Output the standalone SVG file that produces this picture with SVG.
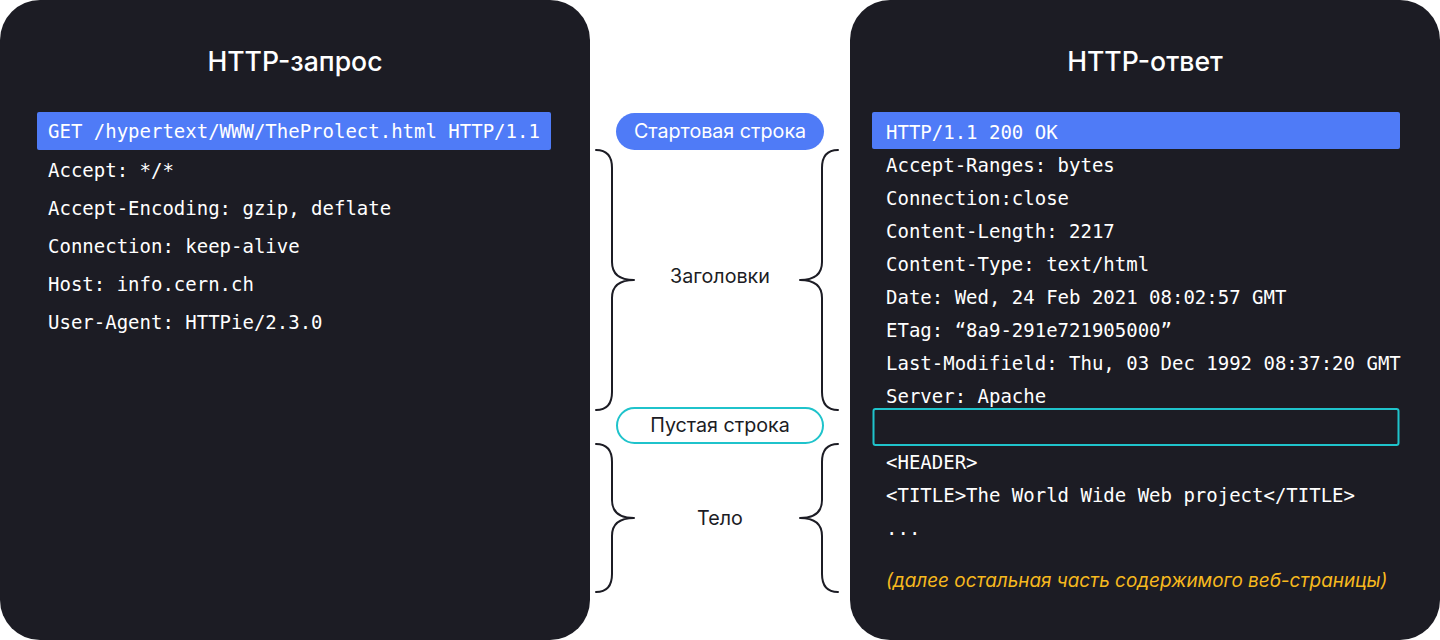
<svg xmlns="http://www.w3.org/2000/svg" width="1440" height="640" viewBox="0 0 1440 640">
<style>
.panel{fill:#1c1c24}
.title{font-family:Inter,"Noto Sans",sans-serif;font-size:26.6px;fill:#ffffff;text-anchor:middle;font-weight:500}
.mono{font-family:"DejaVu Sans Mono","Liberation Mono",monospace;font-size:19px;fill:#ffffff}
.lbl{font-family:Inter,"Noto Sans",sans-serif;font-size:19.7px;text-anchor:middle}
.brace{fill:none;stroke:#1c1c24;stroke-width:2;stroke-linecap:round;stroke-linejoin:round}
.note{font-family:Inter,"Noto Sans",sans-serif;font-size:18.9px;font-style:italic;fill:#f7b91e}
</style>
<rect width="1440" height="640" fill="#ffffff"/>
<g id="request">
<rect class="panel" x="0" y="0" width="590" height="640" rx="40"/>
<text class="title" x="295" y="71">HTTP-запрос</text>
<rect x="37" y="112" width="514" height="38" rx="2" fill="#4f7bf7"/>
<text class="mono" x="48" y="138">GET /hypertext/WWW/TheProlect.html HTTP/1.1</text>
<text class="mono" x="48" y="177">Accept: */*</text>
<text class="mono" x="48" y="215">Accept-Encoding: gzip, deflate</text>
<text class="mono" x="48" y="253">Connection: keep-alive</text>
<text class="mono" x="48" y="291">Host: info.cern.ch</text>
<text class="mono" x="48" y="329">User-Agent: HTTPie/2.3.0</text>
</g>
<g id="response">
<rect class="panel" x="850" y="0" width="590" height="640" rx="40"/>
<text class="title" x="1145" y="71">HTTP-ответ</text>
<rect x="872" y="112" width="528" height="37" rx="2" fill="#4f7bf7"/>
<text class="mono" x="886" y="139">HTTP/1.1 200 OK</text>
<text class="mono" x="886" y="172">Accept-Ranges: bytes</text>
<text class="mono" x="886" y="205">Connection:close</text>
<text class="mono" x="886" y="238">Content-Length: 2217</text>
<text class="mono" x="886" y="271">Content-Type: text/html</text>
<text class="mono" x="886" y="304">Date: Wed, 24 Feb 2021 08:02:57 GMT</text>
<text class="mono" x="886" y="337">ETag: “8a9-291e721905000”</text>
<text class="mono" x="886" y="370">Last-Modifield: Thu, 03 Dec 1992 08:37:20 GMT</text>
<text class="mono" x="886" y="403">Server: Apache</text>
<rect x="873.5" y="409" width="525" height="36" rx="2" fill="none" stroke="#1fc3cb" stroke-width="2"/>
<text class="mono" x="886" y="469">&lt;HEADER&gt;</text>
<text class="mono" x="886" y="502">&lt;TITLE&gt;The World Wide Web project&lt;/TITLE&gt;</text>
<text class="mono" x="886" y="535">...</text>
<text class="note" x="886" y="587">(далее остальная часть содержимого веб-страницы)</text>
</g>
<g id="start-line">
<rect x="616" y="113" width="208" height="37" rx="18.5" fill="#4f7bf7"/>
<text class="lbl" x="720" y="138" fill="#ffffff">Стартовая строка</text>
</g>
<g id="empty-line">
<rect x="617" y="408" width="206" height="35" rx="17.5" fill="#ffffff" stroke="#1fc3cb" stroke-width="2"/>
<text class="lbl" x="720" y="432" fill="#1c1c24">Пустая строка</text>
</g>
<g id="headers-label">
<text class="lbl" x="720" y="283" fill="#1c1c24">Заголовки</text>
</g>
<g id="body-label">
<text class="lbl" x="720" y="525" fill="#1c1c24">Тело</text>
</g>
<g id="connectors">
<path class="brace" d="M596,150 Q612,150 612,168 L612,262 Q612,280 634,280 Q612,280 612,298 L612,392 Q612,410 596,410"/>
<path class="brace" d="M838,150 Q822,150 822,168 L822,262 Q822,280 800,280 Q822,280 822,298 L822,392 Q822,410 838,410"/>
<path class="brace" d="M596,444 Q612,444 612,462 L612,500 Q612,518 634,518 Q612,518 612,536 L612,574 Q612,592 596,592"/>
<path class="brace" d="M838,444 Q822,444 822,462 L822,500 Q822,518 800,518 Q822,518 822,536 L822,574 Q822,592 838,592"/>
</g>
</svg>
